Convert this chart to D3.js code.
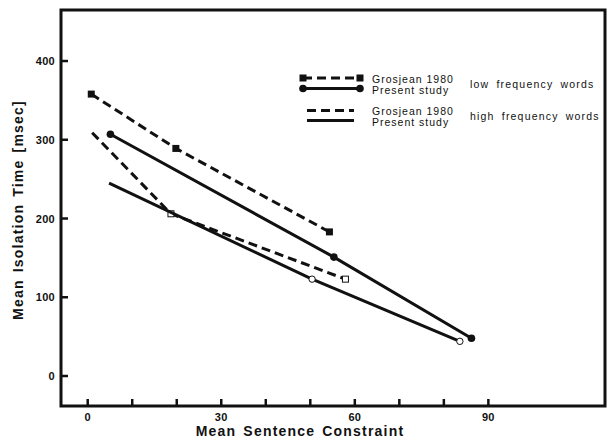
<!DOCTYPE html>
<html>
<head>
<meta charset="utf-8">
<script src="https://cdn.jsdelivr.net/npm/d3@7"></script>
<style>
  body { margin: 0; background: #fff; }
  text { font-family: 'Liberation Sans', Arial, sans-serif; fill: #111; }
  .tick-label { font-size: 11px; font-weight: bold; letter-spacing: 0.3px; }
  .axis-title { font-size: 14px; font-weight: bold; letter-spacing: 1.2px; word-spacing: 2px; }
  .legend-text { font-size: 10.5px; letter-spacing: 1px; }
  .legend-group { font-size: 10.5px; letter-spacing: 1.2px; word-spacing: 3px; }
</style>
</head>
<body>
<script>
// ! Data
const xTicks = [0, 10, 20, 30, 40, 50, 60, 70, 80, 90];
const xTickLabels = [0, 30, 60, 90];
const yTicks = [0, 100, 200, 300, 400];

// * low frequency words
const grosjeanLowX = [0.8, 19.8, 54.3];
const grosjeanLowY = [358, 289, 183];
const presentLowX = [5.1, 55.3, 86.2];
const presentLowY = [307, 151, 48];
// * high frequency words
const grosjeanHighX = [1.0, 18.7, 57.9];
const grosjeanHighY = [309, 206, 123];
const presentHighX = [4.8, 50.4, 83.6];
const presentHighY = [245, 123, 44];

const zip = (xs, ys) => xs.map((x, i) => ({ x, y: ys[i] }));

const series = [
  { pts: zip(grosjeanLowX, grosjeanLowY), dashed: true, marker: 'square', filled: true, from: 0 },
  { pts: zip(presentLowX, presentLowY), dashed: false, marker: 'circle', filled: true, from: 0 },
  { pts: zip(grosjeanHighX, grosjeanHighY), dashed: true, marker: 'square', filled: false, from: 1 },
  { pts: zip(presentHighX, presentHighY), dashed: false, marker: 'circle', filled: false, from: 1 },
];

// ! Drawing
const width = 614;
const height = 439;
const svg = d3.select('body').append('svg')
  .attr('width', width)
  .attr('height', height);

const frame = { left: 61, right: 605, top: 10, bottom: 406 };
const x = d3.scaleLinear().domain([-6, 116.2]).range([frame.left, frame.right]);
const y = d3.scaleLinear().domain([-38.1, 464.8]).range([frame.bottom, frame.top]);

// * ticks (inside the frame)
svg.append('g').selectAll('line').data(xTicks).enter().append('line')
  .attr('x1', (d) => x(d)).attr('x2', (d) => x(d))
  .attr('y1', frame.bottom).attr('y2', frame.bottom - 7)
  .attr('stroke', '#111').attr('stroke-width', 2.5);
svg.append('g').selectAll('line').data(yTicks).enter().append('line')
  .attr('x1', frame.left).attr('x2', frame.left + 7)
  .attr('y1', (d) => y(d)).attr('y2', (d) => y(d))
  .attr('stroke', '#111').attr('stroke-width', 2.5);

svg.append('g').selectAll('text').data(xTickLabels).enter().append('text')
  .attr('class', 'tick-label')
  .attr('x', (d) => x(d)).attr('y', frame.bottom + 15)
  .attr('text-anchor', 'middle')
  .text((d) => d);
svg.append('g').selectAll('text').data(yTicks).enter().append('text')
  .attr('class', 'tick-label')
  .attr('x', frame.left - 6).attr('y', (d) => y(d) + 4)
  .attr('text-anchor', 'end')
  .text((d) => d);

// * frame
svg.append('rect')
  .attr('x', frame.left).attr('y', frame.top)
  .attr('width', frame.right - frame.left).attr('height', frame.bottom - frame.top)
  .attr('fill', 'none').attr('stroke', '#111').attr('stroke-width', 3);

// * axis titles
svg.append('text').attr('class', 'axis-title')
  .attr('x', 300).attr('y', 436).attr('text-anchor', 'middle')
  .text('Mean Sentence Constraint');
svg.append('text').attr('class', 'axis-title')
  .attr('transform', 'translate(23, 210) rotate(-90)').attr('text-anchor', 'middle')
  .text('Mean Isolation Time [msec]');

// * lines + markers
const line = d3.line().x((d) => x(d.x)).y((d) => y(d.y));
function drawMarker(g, mk, filled, cx, cy) {
  const sw = filled ? 0 : 1;
  if (mk === 'square') {
    const s = filled ? 7 : 6;
    g.append('rect').attr('x', cx - s / 2).attr('y', cy - s / 2)
      .attr('width', s).attr('height', s)
      .attr('fill', filled ? '#111' : '#fff').attr('stroke', '#111').attr('stroke-width', sw);
  } else {
    g.append('circle').attr('cx', cx).attr('cy', cy).attr('r', filled ? 3.8 : 3.2)
      .attr('fill', filled ? '#111' : '#fff').attr('stroke', '#111').attr('stroke-width', sw);
  }
}

series.forEach((s) => {
  const g = svg.append('g');
  g.append('path').attr('d', line(s.pts))
    .attr('fill', 'none').attr('stroke', '#111').attr('stroke-width', 3)
    .attr('stroke-dasharray', s.dashed ? '9,5' : null);
  s.pts.slice(s.from).forEach((p) => drawMarker(g, s.marker, s.filled, x(p.x), y(p.y)));
});

// * legend
const legend = svg.append('g');
const legendRows = [
  { y: 78, ty: 83, dashed: true, marker: 'square', x1: 303, x2: 360, label: 'Grosjean 1980' },
  { y: 88.5, ty: 94, dashed: false, marker: 'circle', x1: 303, x2: 360, label: 'Present study' },
  { y: 110.5, ty: 114.5, dashed: true, marker: null, x1: 307, x2: 354, label: 'Grosjean 1980' },
  { y: 120.5, ty: 125.5, dashed: false, marker: null, x1: 307, x2: 354, label: 'Present study' },
];
legendRows.forEach((r) => {
  legend.append('line').attr('x1', r.x1).attr('x2', r.x2).attr('y1', r.y).attr('y2', r.y)
    .attr('stroke', '#111').attr('stroke-width', 3)
    .attr('stroke-dasharray', r.dashed ? '9,5' : null);
  if (r.marker) {
    drawMarker(legend, r.marker, true, r.x1, r.y);
    drawMarker(legend, r.marker, true, r.x2, r.y);
  }
  legend.append('text').attr('class', 'legend-text')
    .attr('x', 372).attr('y', r.ty).text(r.label);
});
legend.append('text').attr('class', 'legend-group').attr('x', 470).attr('y', 88).text('low frequency words');
legend.append('text').attr('class', 'legend-group').attr('x', 470).attr('y', 120).text('high frequency words');
</script>
</body>
</html>
